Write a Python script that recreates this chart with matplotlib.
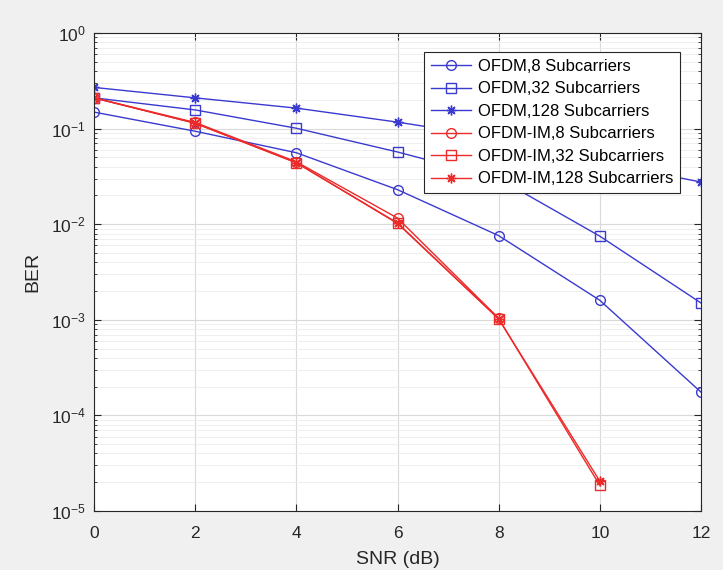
import numpy as np
import matplotlib
matplotlib.use("Agg")
import matplotlib.pyplot as plt
from matplotlib.ticker import LogLocator, NullFormatter

snr = [0, 2, 4, 6, 8, 10, 12]

ofdm_8 = [0.149, 0.094, 0.056, 0.023, 0.0076, 0.0016, 1.75e-4]
ofdm_32 = [0.21, 0.157, 0.101, 0.057, 0.030, 0.0075, 0.0015]
ofdm_128 = [0.27, 0.21, 0.164, 0.117, 0.080, 0.045, 0.0276]
ofdm_im_8 = [0.21, 0.116, 0.045, 0.0116, 0.00104, np.nan, np.nan]
ofdm_im_32 = [0.21, 0.114, 0.044, 0.0103, 0.00103, 1.85e-5, np.nan]
ofdm_im_128 = [0.21, 0.114, 0.044, 0.0102, 0.00102, 2.05e-5, np.nan]

labels = ["OFDM,8 Subcarriers", "OFDM,32 Subcarriers", "OFDM,128 Subcarriers",
          "OFDM-IM,8 Subcarriers", "OFDM-IM,32 Subcarriers", "OFDM-IM,128 Subcarriers"]

BLUE = "#3a3ad0"
RED = "#ec2a2a"
ASTERISK = (8, 2, 0)

plt.rcParams["font.family"] = ["Liberation Sans", "DejaVu Sans"]

fig = plt.figure(figsize=(7.23, 5.70), dpi=100, facecolor="#f0f0f0")
ax = fig.add_axes([0.130, 0.1035, 0.8396, 0.8385])
ax.set_facecolor("white")

series = [
    (ofdm_8, BLUE, "o"),
    (ofdm_32, BLUE, "s"),
    (ofdm_128, BLUE, ASTERISK),
    (ofdm_im_8, RED, "o"),
    (ofdm_im_32, RED, "s"),
    (ofdm_im_128, RED, ASTERISK),
]
for (vals, col, mk), lab in zip(series, labels):
    ax.plot(snr, vals, color=col, marker=mk, markersize=7,
            markerfacecolor="none", markeredgecolor=col, markeredgewidth=1.0,
            linewidth=1.0, label=lab)

ax.set_yscale("log")
ax.set_xlim(0, 12)
ax.set_ylim(1e-5, 1)
ax.set_xticks(snr)
ax.yaxis.set_major_locator(LogLocator(base=10, numticks=10))
ax.yaxis.set_minor_locator(LogLocator(base=10, subs=np.arange(2, 10), numticks=10))
ax.yaxis.set_minor_formatter(NullFormatter())

ax.grid(True, which="major", color="#d9d9d9", linewidth=0.8)
ax.grid(True, which="minor", axis="y", color="#ececec", linewidth=0.6)
ax.set_axisbelow(True)

ax.tick_params(which="both", direction="in", top=True, right=True, colors="#262626",
               labelsize=12.5)
ax.tick_params(axis="x", pad=11)
ax.tick_params(axis="y", pad=6)
ax.tick_params(which="major", length=5)
ax.tick_params(which="minor", length=2.5)
for s in ax.spines.values():
    s.set_color("#262626")
    s.set_linewidth(0.8)

ax.set_xlabel("SNR (dB)", fontsize=14, color="#262626", labelpad=7)
ax.set_ylabel("BER", fontsize=14, color="#262626", labelpad=7)

leg = ax.legend(loc="upper right", bbox_to_anchor=(0.965, 0.960), borderaxespad=0,
                fontsize=12, fancybox=False, framealpha=1, edgecolor="#262626",
                handlelength=2.4, borderpad=0.4, labelspacing=0.45, handletextpad=0.4)
leg.get_frame().set_linewidth(0.8)

fig.savefig("out.png", dpi=100, facecolor=fig.get_facecolor())
